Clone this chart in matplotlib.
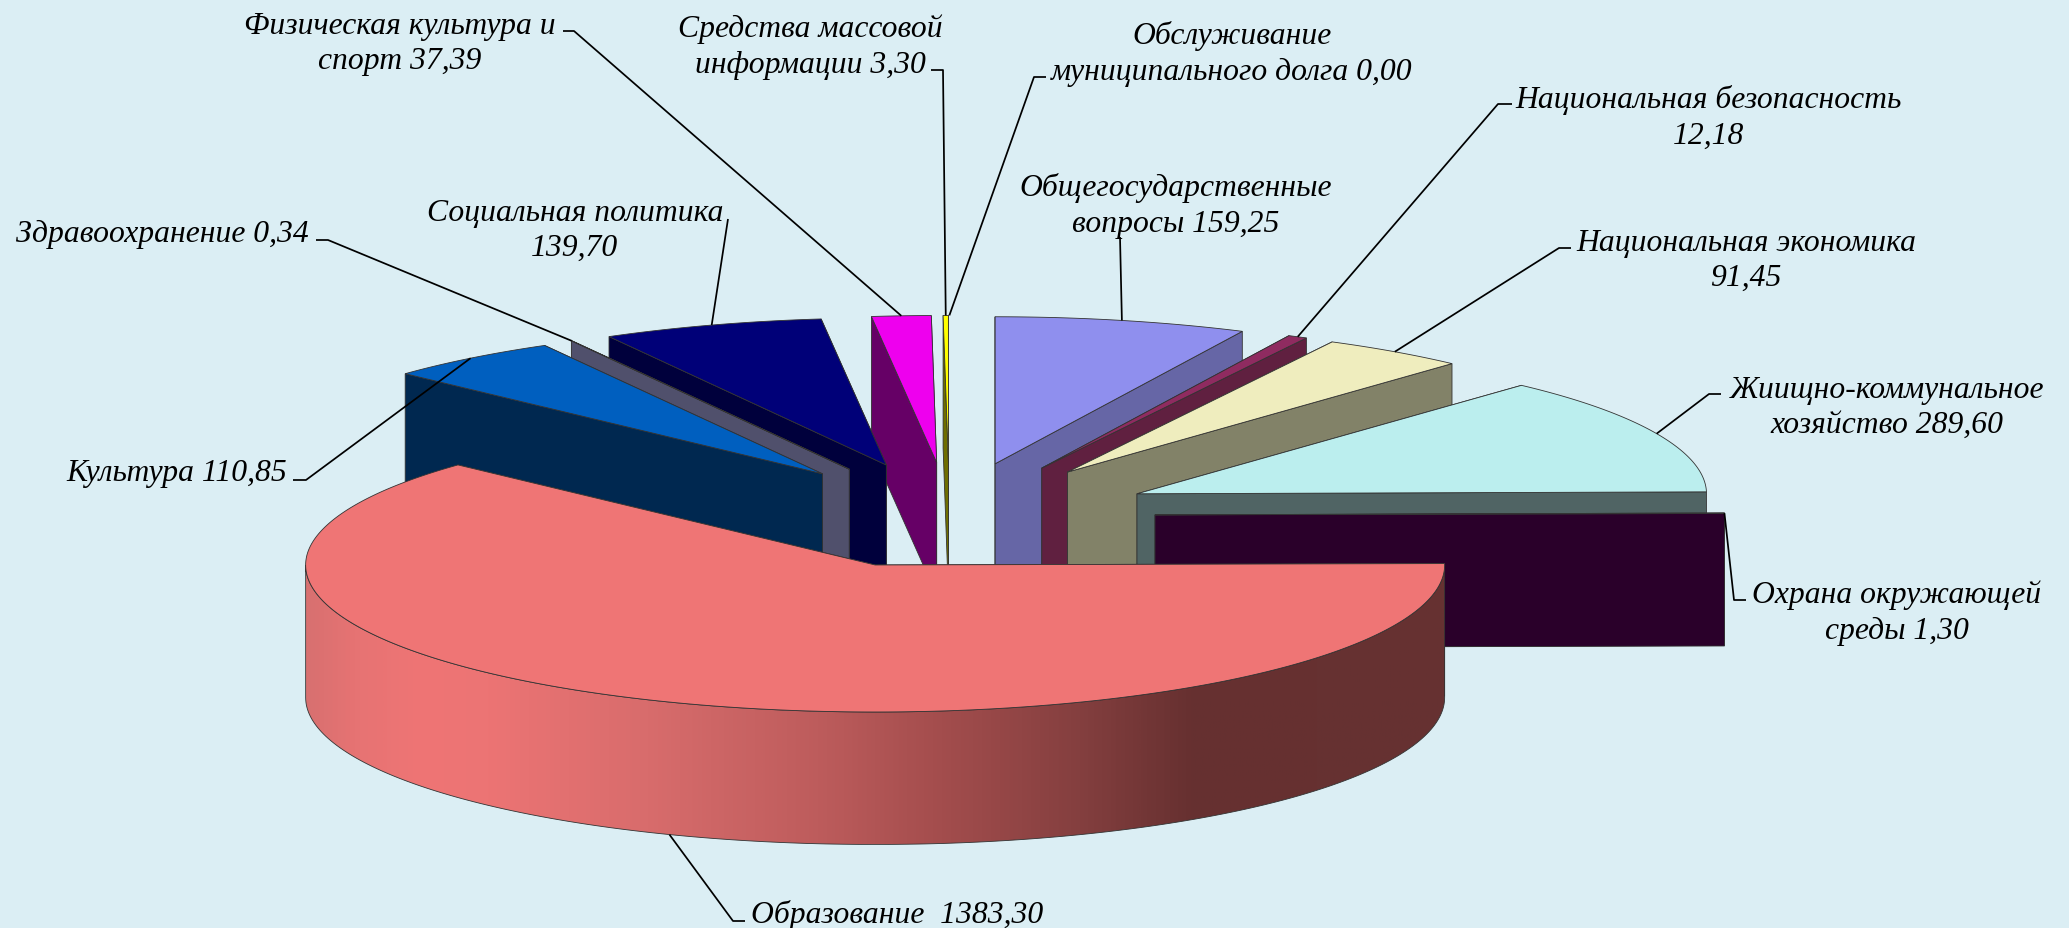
import numpy as np
import matplotlib
matplotlib.use("Agg")
import matplotlib.pyplot as plt
from matplotlib.colors import LinearSegmentedColormap
from matplotlib.patches import Polygon

# values, clockwise from 3 o'clock, same order as the chart
names = ["Образование  1383,30", "Культура 110,85", "Здравоохранение 0,34",
         "Социальная политика\n139,70", "Физическая культура и\nспорт 37,39",
         "Средства массовой\nинформации 3,30", "Обслуживание\nмуниципального долга 0,00",
         "Общегосударственные\nвопросы 159,25", "Национальная безопасность\n12,18",
         "Национальная экономика\n91,45", "Жиищно-коммунальное\nхозяйство 289,60",
         "Охрана окружающей\nсреды 1,30"]
values = [1383.30, 110.85, 0.34, 139.70, 37.39, 3.30, 0.00, 159.25, 12.18, 91.45, 289.60, 1.30]

top_colors = ["#EF7575", "#005FBF", "#50506C", "#000078", "#EE00EE", "#FFFF00", "#FFFF00",
              "#8F8FEE", "#8F2B60", "#EFEDBE", "#BBEEEE", "#560056"]
wall_colors = ["#663030", "#002850", "#50506C", "#00003C", "#660066", "#6E6E00", "#6E6E00",
               "#6666A6", "#602040", "#828268", "#506464", "#2A002A"]

# label centres and the leader path from the label towards its slice
label_xy = [(897, 915), (177, 474), (162, 234), (575, 231), (400, 44), (810, 47), (1232, 54),
            (1176, 206), (1709, 118), (1746, 261), (1887, 408), (1897, 613)]
leaders = [[(745, 922), (733, 922)], [(293, 481), (306, 481)], [(316, 241), (328, 241)],
           [(728, 220)], [(563, 32), (574, 32)], [(931, 71), (943, 71)], [(1046, 78), (1034, 78)],
           [(1120, 238)], [(1512, 105), (1498, 105)], [(1571, 249), (1559, 249)],
           [(1721, 395), (1709, 395)], [(1746, 601), (1734, 601)]]

bg = "#DBEEF4"
edge = "#333333"
cx, cy = 949.4, 516.5   # pie centre in pixels
a = 569.5               # radius along x
k = 147 / a             # squash of the tilt
depth = 132.5
explode = 205.6
start_angle = -0.55

plt.rcParams["font.family"] = ["Liberation Serif", "DejaVu Serif"]

fig = plt.figure(figsize=(20.69, 9.29), dpi=100, facecolor=bg)
ax = fig.add_axes([0, 0, 1, 1])
ax.set_xlim(0, 2069)
ax.set_ylim(929, 0)
ax.axis("off")

sweep = np.array(values) / sum(values) * 360
ends = start_angle + np.cumsum(sweep)
starts = ends - sweep
mids = (starts + ends) / 2


def apex_of(i):
    t = np.radians(mids[i])
    return cx + explode * np.cos(t), cy + explode * k * np.sin(t)


def rim(i, deg):
    # point on the outer edge of slice i at angle deg (can be an array)
    ax0, ay0 = apex_of(i)
    t = np.radians(deg)
    return ax0 + a * np.cos(t), ay0 + a * k * np.sin(t)


def radial_wall(i, deg, z):
    ax0, ay0 = apex_of(i)
    x, y = rim(i, deg)
    pts = [(ax0, ay0), (x, y), (x, y + depth), (ax0, ay0 + depth)]
    ax.add_patch(Polygon(pts, closed=True, fc=wall_colors[i], ec=edge, lw=0.6, zorder=z))


shade = LinearSegmentedColormap.from_list("shade", [(0, "#D87070"), (0.04, "#E67373"), (0.1, "#EF7575"),
                                                    (0.16, "#EC7474"), (0.3, "#D86C6C"), (0.45, "#BD5C5C"),
                                                    (0.55, "#A54E4E"), (0.68, "#843F3F"), (0.78, "#663030"),
                                                    (1, "#663232")])

# far slices first, the big one last
order = sorted(range(len(values)), key=lambda i: abs(mids[i] - 270))
z = 2
for i in order:
    if values[i] == 0:
        continue
    if mids[i] < 270:
        walls = [ends[i], starts[i]]
    else:
        walls = [starts[i], ends[i]]
    for deg in walls:
        radial_wall(i, deg, z)
        z += 1

    # outer curved wall, only the part facing us
    lo, hi = max(starts[i], 0), min(ends[i], 180)
    if hi > lo:
        th = np.linspace(lo, hi, 200)
        x, y = rim(i, th)
        pts = np.r_[np.c_[x, y], np.c_[x[::-1], y[::-1] + depth]]
        outline = Polygon(pts, closed=True, fc="none", ec=edge, lw=0.6, zorder=z + 1)
        clip = Polygon(pts, closed=True, transform=ax.transData)
        img = ax.imshow(np.linspace(0, 1, 512).reshape(1, -1), cmap=shade, aspect="auto",
                        extent=(x.min(), x.max(), y.max() + depth, y.min()), zorder=z)
        img.set_clip_path(clip)
        ax.add_patch(outline)
        z += 2

    # top face
    th = np.linspace(starts[i], ends[i], max(int(sweep[i] * 2), 2))
    x, y = rim(i, th)
    pts = np.r_[[apex_of(i)], np.c_[x, y]]
    ax.add_patch(Polygon(pts, closed=True, fc=top_colors[i], ec=edge, lw=0.6, zorder=z))
    z += 1

ax.set_xlim(0, 2069)
ax.set_ylim(929, 0)

# leaders and labels
for i in range(len(values)):
    x, y = rim(i, mids[i])
    if 0 < mids[i] < 180:
        y = y + depth
    path = leaders[i] + [(x, y)]
    ax.plot([p[0] for p in path], [p[1] for p in path], color="black", lw=1.25, zorder=z + 1,
            solid_capstyle="butt")
    ax.text(label_xy[i][0], label_xy[i][1], names[i], ha="center", va="center", style="italic",
            fontsize=22.8, linespacing=1.3, color="black", zorder=z + 2)

fig.savefig("out.png", dpi=100, facecolor=bg)
